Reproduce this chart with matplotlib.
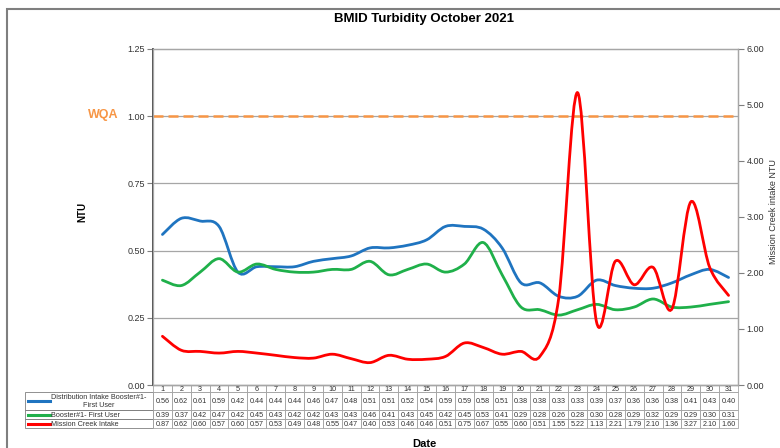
import matplotlib
matplotlib.use("Agg")
import matplotlib.pyplot as plt
import numpy as np
from matplotlib.path import Path
from matplotlib.patches import PathPatch, Rectangle
from matplotlib.lines import Line2D

plt.rcParams['font.family'] = ['Liberation Sans', 'DejaVu Sans']

# data
days = list(range(1, 32))
dist_intake = [0.56, 0.62, 0.61, 0.59, 0.42, 0.44, 0.44, 0.44, 0.46, 0.47, 0.48, 0.51, 0.51,
               0.52, 0.54, 0.59, 0.59, 0.58, 0.51, 0.38, 0.38, 0.33, 0.33, 0.39, 0.37, 0.36,
               0.36, 0.38, 0.41, 0.43, 0.40]
booster = [0.39, 0.37, 0.42, 0.47, 0.42, 0.45, 0.43, 0.42, 0.42, 0.43, 0.43, 0.46, 0.41,
           0.43, 0.45, 0.42, 0.45, 0.53, 0.41, 0.29, 0.28, 0.26, 0.28, 0.30, 0.28, 0.29,
           0.32, 0.29, 0.29, 0.30, 0.31]
mission_creek = [0.87, 0.62, 0.60, 0.57, 0.60, 0.57, 0.53, 0.49, 0.48, 0.55, 0.47, 0.40, 0.53,
                 0.46, 0.46, 0.51, 0.75, 0.67, 0.55, 0.60, 0.51, 1.55, 5.22, 1.13, 2.21, 1.79,
                 2.10, 1.36, 3.27, 2.10, 1.60]
series_names = ["Distribution Intake Booster#1-\nFirst User", "Booster#1- First User",
                "Mission Creek Intake"]
wqa_limit = 1.0

BLUE = "#1f74c0"
GREEN = "#1fb04a"
RED = "#ff0000"
ORANGE = "#f79646"
GRID = "#a6a6a6"

W, H = 780, 448


def fx(x):
    return x / W


def fy(y):
    return 1 - y / H


def smooth_path(x, y):
    # excel style smoothed line: cubic bezier through every point
    pts = np.column_stack([x, y]).astype(float)
    n = len(pts)
    verts = [pts[0]]
    codes = [Path.MOVETO]
    for i in range(n - 1):
        p0 = pts[i - 1] if i > 0 else pts[i]
        p1 = pts[i]
        p2 = pts[i + 1]
        p3 = pts[i + 2] if i + 2 < n else pts[i + 1]
        verts += [p1 + (p2 - p0) / 6, p2 - (p3 - p1) / 6, p2]
        codes += [Path.CURVE4] * 3
    return Path(verts, codes)


def box(x0, y0, x1, y1, ec=GRID, lw=0.6):
    # rectangle given in pixel coords (y down)
    fig.add_artist(Rectangle((fx(x0), fy(y1)), fx(x1 - x0), fy(y0) - fy(y1),
                             transform=fig.transFigure, fill=False, edgecolor=ec, lw=lw))


fig = plt.figure(figsize=(7.8, 4.48), dpi=100)
box(7, 9, 800, 460, ec="#7f7f7f", lw=1.5)

ax_l, ax_r, ax_t, ax_b = 153, 738, 49, 385
ax = fig.add_axes([fx(ax_l), fy(ax_b), fx(ax_r - ax_l), (ax_b - ax_t) / H])
ax2 = ax.twinx()

ax.set_xlim(0.5, 31.5)
ax.set_ylim(0, 1.25)
ax2.set_ylim(0, 6)

ax.set_yticks([0, 0.25, 0.5, 0.75, 1.0, 1.25])
ax.set_yticklabels(["0.00", "0.25", "0.50", "0.75", "1.00", "1.25"])
ax2.set_yticks([0, 1, 2, 3, 4, 5, 6])
ax2.set_yticklabels(["%.2f" % v for v in range(7)])
ax.set_xticks([])

for a in (ax, ax2):
    a.tick_params(axis='y', labelsize=6.5, length=4, width=0.8, colors="#7f7f7f",
                  labelcolor="#333333", pad=2)
    for s in a.spines.values():
        s.set_color(GRID)
        s.set_linewidth(0.9)
ax.spines['left'].set_color("#404040")
ax.spines['left'].set_linewidth(1.3)
ax.spines['bottom'].set_color("#404040")

for g in [0.25, 0.5, 0.75, 1.0]:
    ax.axhline(g, color=GRID, lw=0.9, zorder=1)

ax.axhline(wqa_limit, color=ORANGE, lw=1.8, ls=(0, (4, 2)), zorder=2)
fig.text(fx(103), fy(115), "WQA", color=ORANGE, fontsize=9, fontweight='bold',
         ha='center', va='center')

ax.add_patch(PathPatch(smooth_path(days, dist_intake), fill=False, edgecolor=BLUE,
                       lw=2.0, zorder=3, capstyle='round'))
ax.add_patch(PathPatch(smooth_path(days, booster), fill=False, edgecolor=GREEN,
                       lw=2.0, zorder=3, capstyle='round'))
ax2.add_patch(PathPatch(smooth_path(days, mission_creek), fill=False, edgecolor=RED,
                        lw=2.0, zorder=3, capstyle='round'))

fig.text(fx(424), fy(19), "BMID Turbidity October 2021", fontsize=9.5,
         fontweight='bold', ha='center', va='center')
fig.text(fx(82), fy(212), "NTU", fontsize=7, fontweight='bold', rotation=90,
         ha='center', va='center')
fig.text(fx(774), fy(212), "Mission Creek intake NTU", fontsize=6.5, rotation=90,
         ha='center', va='center', color="#333333")
fig.text(fx(424), fy(444), "Date", fontsize=8, fontweight='bold', ha='center',
         va='center')

# data table under the plot, drawn cell by cell in pixel positions
row_tops = [385, 392, 410, 419, 428]
label_left = 25
col_w = (ax_r - ax_l) / len(days)
rows = [dist_intake, booster, mission_creek]
colors = [BLUE, GREEN, RED]

for j, d in enumerate(days):
    x0 = ax_l + j * col_w
    box(x0, row_tops[0], x0 + col_w, row_tops[1])
    fig.text(fx(x0 + col_w / 2), fy((row_tops[0] + row_tops[1]) / 2 + 0.5), str(d),
             fontsize=5.2, ha='center', va='center', color="#333333")

for i, (name, vals, col) in enumerate(zip(series_names, rows, colors)):
    y0, y1 = row_tops[i + 1], row_tops[i + 2]
    yc = (y0 + y1) / 2
    box(label_left, y0, ax_l, y1, ec="#7f7f7f")
    fig.add_artist(Line2D([fx(28), fx(50)], [fy(yc), fy(yc)], color=col, lw=2.2,
                          transform=fig.transFigure))
    fig.text(fx(51), fy(yc + 0.5), name, fontsize=5.2, ha='left', va='center',
             multialignment='center', color="#333333", linespacing=1.1)
    for j, v in enumerate(vals):
        x0 = ax_l + j * col_w
        box(x0, y0, x0 + col_w, y1)
        fig.text(fx(x0 + col_w / 2), fy(yc + 0.5), "%.2f" % v, fontsize=5.2,
                 ha='center', va='center', color="#333333")

fig.savefig("out.png", dpi=100)
